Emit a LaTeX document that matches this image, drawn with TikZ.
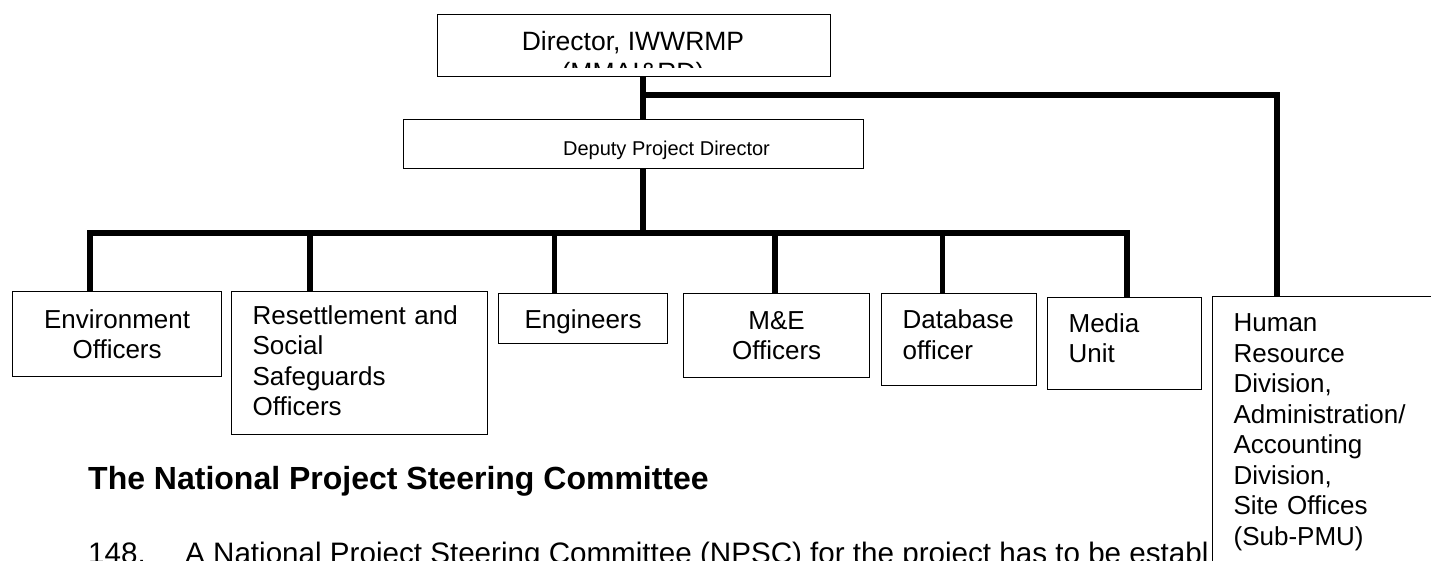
\documentclass[tikz,border=0pt]{standalone}
\usepackage{fontspec}
\setmainfont{Liberation Sans}
\usepackage{graphicx}
\newcommand\boxfont{\fontsize{26}{30.5}\selectfont}
\newcommand\depfont{\fontsize{20}{24}\selectfont}
\newcommand\dirfont{\fontsize{26.5}{30}\selectfont}
\newcommand\headfont{\fontsize{32}{38}\selectfont\bfseries}
\newcommand\bodyfont{\fontsize{29.6}{34}\selectfont}
\begin{document}
\begin{tikzpicture}[x=1pt,y=-1pt,
  box/.style={draw, line width=1.2pt, fill=white, inner sep=0pt, font=\boxfont},
  conn/.style={line width=5.5pt, line join=miter}]
\useasboundingbox (0,0) rectangle (1431,560);
\clip (0,0) rectangle (1431,560);

% top boxes
\node[box, anchor=north west, minimum width=393, minimum height=62] (dir) at (437,14) {};
\begin{scope}
\clip (437,14) rectangle (830,67.5);
\node[anchor=base, font=\dirfont, inner sep=0] (dirA) at (633,50) {Director, IWWRMP};
\node[anchor=base, font=\dirfont, inner sep=0] (dirB) at (633,81) {(MMAI\&RD)};
\end{scope}
\node[box, anchor=north west, minimum width=460, minimum height=49] (dep) at (403,119) {};
\node[anchor=base, font=\depfont, inner sep=0] (depT) at (666.5,155) {Deputy Project Director};

% lower boxes
\node[box, anchor=north west, minimum width=209, minimum height=85, align=center] (env) at (12,291) {Environment\\Officers};
\node[box, anchor=north west, minimum height=143, text width=214, inner xsep=21, align=left, text depth=97pt] (res) at (231,291) {Resettlement and\\Social\\Safeguards\\Officers};
\node[box, anchor=north west, minimum width=169, minimum height=50, text depth=0pt] (eng) at (498,293) {Engineers};
\node[box, anchor=north west, minimum width=186, minimum height=84, align=center] (me) at (683,293) {M\&E\\Officers};
\node[box, anchor=north west, minimum height=92, text width=113, inner xsep=21, align=left, text depth=40.5pt] (db) at (881,293) {Database\\officer};
\node[box, anchor=north west, minimum height=92, text width=112, inner xsep=21, align=left, text depth=42pt] (med) at (1047,297) {Media\\Unit};

% body text
\node[anchor=base west, inner sep=0, font=\headfont] (head) at (88,489) {The National Project Steering Committee};
\node[anchor=base west, inner sep=0, font=\bodyfont] (pnum) at (88,563) {148.};
\node[anchor=base west, inner sep=0, font=\bodyfont] (para) at (185,563) {A National Project Steering Committee (NPSC) for the project has to be establ};

\node[box, anchor=north west, text width=230, inner xsep=21, inner ysep=17.4, align=left] (hr) at (1212,296) {Human\\Resource\\Division,\\Administration/\\Accounting\\Division,\\Site Offices\\(Sub-PMU)};

% connectors
\coordinate (jd) at (643,95);
\coordinate (jh) at (1277,95);
\coordinate (bc) at (643,233);
\coordinate (benv) at (90,233);
\coordinate (bres) at (310,233);
\coordinate (beng) at (554.5,233);
\coordinate (bme) at (775,233);
\coordinate (bdb) at (942.5,233);
\coordinate (bmed) at (1127,233);
\draw[conn] (dir.south -| jd) -- (dep.north -| jd);
\draw[conn] (jd) -- (jh) -- (jh |- hr.north);
\draw[conn] (dep.south -| bc) -- (bc);
\draw[conn] (benv |- env.north) -- (benv) -- (bmed) -- (bmed |- med.north);
\draw[conn] (bres) -- (bres |- res.north);
\draw[conn] (beng) -- (beng |- eng.north);
\draw[conn] (bme) -- (bme |- me.north);
\draw[conn] (bdb) -- (bdb |- db.north);
\end{tikzpicture}
\end{document}
